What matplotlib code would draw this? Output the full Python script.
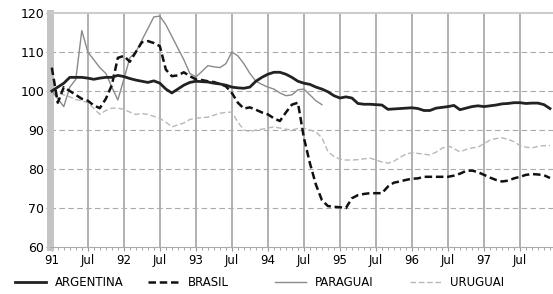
import numpy as np
import matplotlib
matplotlib.use("Agg")
import matplotlib.pyplot as plt

# monthly index, Jan 1991 .. Dec 1997
tick_labels = ["91", "Jul", "92", "Jul", "93", "Jul", "94", "Jul",
               "95", "Jul", "96", "Jul", "97", "Jul"]

argentina = [100, 101, 102, 103.5, 103.5, 103.5, 103.3, 103.0, 103.3, 103.5, 103.5, 104.0,
             103.7, 103.2, 102.8, 102.5, 102.2, 102.6, 102.0, 100.5, 99.5, 100.5, 101.5, 102.2,
             102.5, 102.4, 102.3, 102.0, 101.8, 101.5, 101.0, 100.8, 100.7, 101.0, 102.5, 103.5,
             104.3, 104.8, 104.8, 104.3, 103.5, 102.5, 102.0, 101.7, 101.0, 100.5, 99.8, 98.8,
             98.2, 98.5, 98.2, 96.8, 96.6, 96.6, 96.5, 96.4, 95.3, 95.4, 95.5, 95.6,
             95.7, 95.5, 95.0, 95.0, 95.6, 95.8, 96.0, 96.3, 95.2, 95.6, 96.0, 96.2,
             96.0, 96.2, 96.4, 96.7, 96.8, 97.0, 97.0, 96.8, 96.9, 96.9, 96.5, 95.5]

brasil = [106, 97, 101, 100, 99, 98, 97.5, 96.3, 95.6, 98, 101.5, 108.5,
          109, 107.5, 110, 112.5, 112.8, 112.3, 111.5, 105.5, 103.8, 104, 104.8, 103.8,
          103, 102.8, 102.5, 102.3, 101.8, 101.2, 99.5, 97, 95.5, 95.8, 95.2, 94.5,
          94, 93, 92.3, 94.5, 96.5, 97, 88, 81.5, 76, 72, 70.5, 70.3,
          70.2, 70, 72.5, 73.3, 73.6, 73.8, 73.8, 73.8, 75.5, 76.5, 76.8, 77.2,
          77.5, 77.6, 78, 78, 78, 78, 78, 78.3, 78.8, 79.5, 79.6, 79.2,
          78.5, 77.8, 77.2, 76.8, 77, 77.6, 78, 78.5, 78.7, 78.6, 78.4, 77.7]

# Paraguai stops mid 1994
paraguai = [100, 98, 96, 101, 103, 115.5, 110, 108, 106, 104.5, 101, 97.7,
            103, 108.5, 110, 113, 116, 119, 119.2, 117, 114, 111, 108, 104.5,
            103.6, 105, 106.5, 106.2, 106, 107, 110, 109, 107, 104.5, 102.5, 101.7,
            101, 100.5, 99.5, 98.8, 99, 100.3, 100.5, 99, 97.5, 96.5]

uruguai = [100, 99.5, 99, 98.5, 97.8, 97.5, 97, 95.5, 94, 95, 95.6, 95.6,
           95.3, 94.6, 94, 94.2, 94, 93.5, 93, 92, 90.8, 91.3, 91.8, 92.7,
           93, 93.2, 93.3, 93.8, 94.3, 94.5, 94.6, 92, 90, 89.6, 90, 90.2,
           90.5, 90.8, 90.5, 90.2, 90, 90.4, 90.5, 90, 89.5, 88, 84.5, 83.2,
           82.5, 82.3, 82.3, 82.4, 82.6, 82.8, 82.3, 81.8, 81.5, 82, 83, 83.8,
           84.2, 84, 83.8, 83.6, 84.3, 85.3, 86, 85.2, 84.4, 85, 85.4, 85.6,
           86.5, 87.4, 87.8, 88, 87.6, 87, 86, 85.6, 85.4, 85.8, 86, 86]

fig = plt.figure(figsize=(5.53, 2.94), dpi=100)
ax = fig.add_axes([50/553, 1-247/294, 503/553, 234/294])

ax.plot(np.arange(len(uruguai)), uruguai, color="#b8b8b8", lw=1.0, ls=(0, (4, 2)),
        label="URUGUAI", zorder=3)
ax.plot(np.arange(len(paraguai)), paraguai, color="#8a8a8a", lw=1.0,
        label="PARAGUAI", zorder=4)
ax.plot(np.arange(len(brasil)), brasil, color="#111111", lw=1.8, ls=(0, (3, 1.5)),
        label="BRASIL", zorder=5)
ax.plot(np.arange(len(argentina)), argentina, color="#222222", lw=2.0,
        label="ARGENTINA", zorder=6)

ax.set_xlim(-0.3, 83.5)
ax.set_ylim(60, 120)
ax.set_yticks(np.arange(60, 121, 10))
ax.set_xticks(np.arange(0, 84, 6))
ax.set_xticklabels(tick_labels)
ax.set_xticks(np.arange(0, 84, 1), minor=True)
ax.tick_params(axis="x", which="major", length=3, color="#999999", labelsize=8.5, pad=2)
ax.tick_params(axis="x", which="minor", length=2, color="#999999")
ax.tick_params(axis="y", length=3, color="#999999", labelsize=9, pad=1)

for v in np.arange(70, 120, 10):
    ax.axhline(v, color="#aaaaaa", lw=0.8, ls=(0, (5, 3)), zorder=1)
for m in np.arange(6, 84, 6):
    ax.axvline(m, color="#b0b0b0", lw=1.4, zorder=1)

ax.spines["left"].set_color("#c4c4c4")
ax.spines["left"].set_linewidth(5)
ax.spines["top"].set_color("#cccccc")
ax.spines["top"].set_linewidth(1.5)
ax.spines["bottom"].set_color("#aaaaaa")
ax.spines["right"].set_visible(False)

# one legend per entry so the columns sit like in the original
h, l = ax.get_legend_handles_labels()
order = [3, 2, 1, 0]
starts = [15, 148, 275, 410]
for i, x0 in zip(order, starts):
    fig.legend([h[i]], [l[i]], loc="center left", bbox_to_anchor=(x0/553, 1-283/294),
               frameon=False, fontsize=8.5, handlelength=2.6, handletextpad=0.8,
               borderpad=0, borderaxespad=0)

fig.savefig("out.png", dpi=100)
